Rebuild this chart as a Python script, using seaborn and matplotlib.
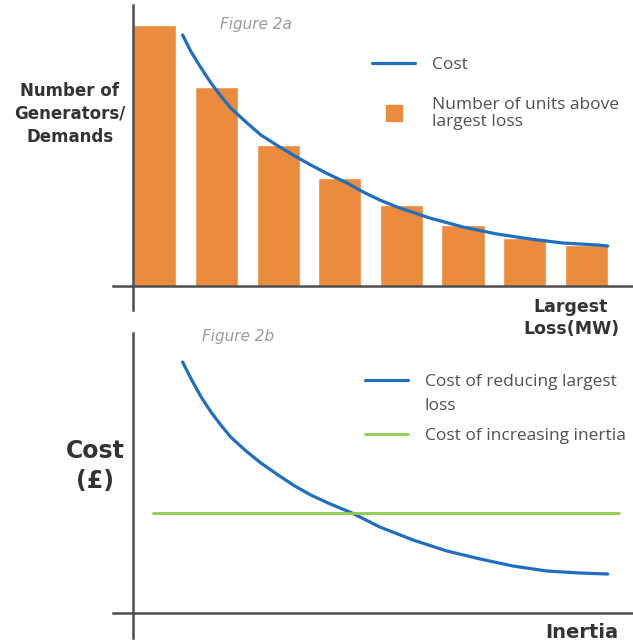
import matplotlib
matplotlib.use('Agg')
import matplotlib.pyplot as plt
from matplotlib.lines import Line2D
import seaborn as sns

# figure 2a: units above largest loss (bars) and cost curve
bar_pos = [0, 1, 2, 3, 4, 5, 6, 7]
n_units = [26.1, 19.9, 14.1, 10.8, 8.1, 6.1, 4.8, 4.1]
cost_x = [0.45, 0.58, 0.75, 0.91, 1.07, 1.23, 1.46, 1.72, 2.00, 2.27, 2.53,
          2.81, 3.12, 3.38, 3.65, 3.93, 4.46, 5.00, 5.55, 6.09, 6.62, 7.18, 7.35]
cost_y = [25.1, 23.5, 21.8, 20.3, 19.0, 17.8, 16.5, 15.1, 14.0, 13.0, 12.1,
          11.2, 10.3, 9.4, 8.6, 7.9, 6.8, 5.9, 5.2, 4.7, 4.3, 4.1, 4.0]

# figure 2b: cost of reducing largest loss vs cost of increasing inertia
inertia_x = [0.45, 0.58, 0.75, 0.91, 1.07, 1.23, 1.46, 1.72, 2.00, 2.27, 2.53,
             2.81, 3.20, 3.65, 4.19, 4.74, 5.28, 5.81, 6.36, 6.90, 7.35]
reduce_cost = [25.1, 23.5, 21.6, 20.1, 18.8, 17.6, 16.3, 15.0, 13.8, 12.7, 11.8,
               11.0, 10.0, 8.6, 7.3, 6.2, 5.4, 4.7, 4.2, 4.0, 3.9]
flat_x = [-0.03, 7.53]
flat_cost = [10.0, 10.0]

orange = '#EB8B3E'
blue = '#1F6EC0'
green = '#8FCB50'
axis_col = '#4d4d4d'
legend_txt = '#505050'

sns.set_style('white')
plt.rcParams['font.family'] = ['DejaVu Sans']

fig = plt.figure(figsize=(6.33, 6.44), dpi=100)
ax1 = fig.add_axes([113 / 633, 1 - 310 / 644, 520 / 633, 305 / 644])
ax2 = fig.add_axes([113 / 633, 1 - 638 / 644, 520 / 633, 305 / 644])

sns.barplot(x=bar_pos, y=n_units, color=orange, saturation=1, width=0.7, ax=ax1)
sns.lineplot(x=cost_x, y=cost_y, color=blue, lw=2.3, ax=ax1)

sns.lineplot(x=inertia_x, y=reduce_cost, color=blue, lw=2.3, ax=ax2)
sns.lineplot(x=flat_x, y=flat_cost, color=green, lw=2.0, ax=ax2)

ax1.set_ylim(-2.4, 28.1)
ax2.set_ylim(-2.5, 28.0)
for ax in (ax1, ax2):
    ax.set_xlim(-0.68, 7.76)
    ax.set_xticks([])
    ax.set_yticks([])
    ax.set_xlabel('')
    ax.set_ylabel('')
    ax.patch.set_alpha(0)
    for s in ('top', 'right'):
        ax.spines[s].set_visible(False)
    ax.spines['left'].set_position(('data', -0.36))
    ax.spines['bottom'].set_position(('data', 0))
    for s in ('left', 'bottom'):
        ax.spines[s].set_color(axis_col)
        ax.spines[s].set_linewidth(1.8)

# legends
leg_font = {'family': 'Open Sans', 'size': 12.5}
h1 = [Line2D([], [], color=blue, lw=2.3),
      Line2D([], [], color=orange, marker='s', ms=11, ls='')]
leg1 = ax1.legend(h1, ['Cost', 'Number of units above\nlargest loss'],
                  loc='upper left', bbox_to_anchor=(372 / 633, 1 - 57 / 644),
                  bbox_transform=fig.transFigure, frameon=False, borderpad=0,
                  borderaxespad=0, handlelength=2.5, handletextpad=0.95,
                  labelspacing=1.35, prop=leg_font, labelcolor=legend_txt)
leg1.get_texts()[1].set_linespacing(1.15)

h2 = [Line2D([], [], color=blue, lw=2.3),
      Line2D([], [], color=green, lw=2.0)]
ax2.legend(h2, ['Cost of reducing largest', 'Cost of increasing inertia'],
           loc='upper left', bbox_to_anchor=(365 / 633, 1 - 374 / 644),
           bbox_transform=fig.transFigure, frameon=False, borderpad=0,
           borderaxespad=0, handlelength=2.5, handletextpad=0.95,
           labelspacing=2.2, prop=leg_font, labelcolor=legend_txt)
fig.text(425 / 633, 1 - 406 / 644, 'loss', family='Open Sans', size=12.5,
         color=legend_txt, va='center', ha='left')

# panel titles and axis labels
fig.text(256 / 633, 1 - 24 / 644, 'Figure 2a', style='italic', size=11,
         color='#9a9a9a', ha='center', va='center')
fig.text(238 / 633, 1 - 337 / 644, 'Figure 2b', style='italic', size=11,
         color='#9a9a9a', ha='center', va='center')
fig.text(70 / 633, 1 - 114 / 644, 'Number of\nGenerators/\nDemands',
         weight='bold', size=12, color='#333333', ha='center', va='center',
         linespacing=1.35)
fig.text(571 / 633, 1 - 318 / 644, 'Largest\nLoss(MW)', weight='bold',
         size=12.5, color='#333333', ha='center', va='center', linespacing=1.3)
fig.text(95 / 633, 1 - 466 / 644, 'Cost\n(£)', weight='bold', size=17,
         color='#333333', ha='center', va='center', linespacing=1.3)
fig.text(582 / 633, 1 - 632 / 644, 'Inertia', weight='bold', size=14,
         color='#333333', ha='center', va='center')

fig.savefig('out.png', dpi=100)
